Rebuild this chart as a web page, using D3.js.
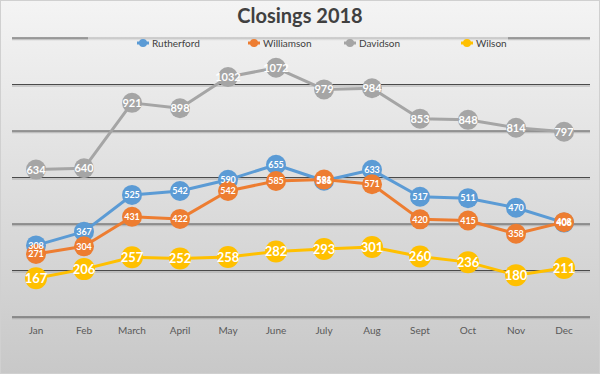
<html>
<head>
<meta charset="utf-8">
<title>Closings 2018</title>
<script src="https://d3js.org/d3.v7.min.js"></script>
<style>
body { margin: 0; }
text { font-family: Lato, "Open Sans", sans-serif; }
</style>
</head>
<body>
<svg width="600" height="374"></svg>
<script>
var months = ["Jan","Feb","March","April","May","June","July","Aug","Sept","Oct","Nov","Dec"];
var rutherford = [308,367,525,542,590,655,586,633,517,511,470,406];
var williamson = [271,304,431,422,542,585,591,571,420,415,358,408];
var davidson = [634,640,921,898,1032,1072,979,984,853,848,814,797];
var wilson = [167,206,257,252,258,282,293,301,260,236,180,211];
var yTicks = [0,200,400,600,800,1000,1200];

var series = [
  {name:"Rutherford", values:rutherford, color:"#5b9bd5", r:10, font:9},
  {name:"Williamson", values:williamson, color:"#ed7d31", r:10, font:9},
  {name:"Davidson", values:davidson, color:"#a5a5a5", r:10, font:11},
  {name:"Wilson", values:wilson, color:"#ffc000", r:11, font:13}
];

var svg = d3.select("svg");
var defs = svg.append("defs");
var grad = defs.append("linearGradient").attr("id","bg")
  .attr("x1","0").attr("y1","0").attr("x2","0").attr("y2","1");
grad.append("stop").attr("offset","0%").attr("stop-color","#f4f4f4");
grad.append("stop").attr("offset","100%").attr("stop-color","#c8c8c8");

svg.append("rect").attr("x",0.5).attr("y",0.5).attr("width",599).attr("height",373)
  .attr("fill","url(#bg)").attr("stroke","#d0d0d0");

var x = d3.scaleBand().domain(months).range([12,588]);
var y = d3.scaleLinear().domain([0,1200]).range([317,38]);

var grid = svg.append("g");
grid.selectAll("line.shadow").data(yTicks).enter().append("line")
  .attr("class","shadow")
  .attr("x1",12).attr("x2",590)
  .attr("y1",d=>y(d)+1.5).attr("y2",d=>y(d)+1.5)
  .attr("stroke","#9a9a9a").attr("stroke-opacity",0.5).attr("stroke-width",1.5);
grid.selectAll("line.g").data(yTicks).enter().append("line")
  .attr("class","g")
  .attr("x1",12).attr("x2",590)
  .attr("y1",d=>y(d)).attr("y2",d=>y(d))
  .attr("stroke","#4a4a4a").attr("stroke-width",1.2);

var xAxis = svg.append("g").attr("transform","translate(0,317)")
  .call(d3.axisBottom(x).tickSize(0).tickPadding(10));
xAxis.select(".domain").remove();
xAxis.selectAll("text").attr("fill","#595959").style("font-size","10px")
  .style("font-family","Lato, 'Open Sans', sans-serif");

svg.append("text").attr("x",300).attr("y",23).attr("text-anchor","middle")
  .attr("fill","#404040").style("font-size","20px").style("font-weight","bold")
  .text("Closings 2018");

// legend
var legendX = [137,248,344,461];
svg.append("rect").attr("x",88).attr("y",36).attr("width",420).attr("height",15)
  .attr("fill","#efefef").attr("fill-opacity",0.6);
var leg = svg.selectAll("g.leg").data(series).enter().append("g")
  .attr("class","leg").attr("transform",(d,i)=>`translate(${legendX[i]},43)`);
leg.append("line").attr("x1",0).attr("x2",12).attr("stroke",d=>d.color).attr("stroke-width",3);
leg.append("circle").attr("cx",6).attr("r",4).attr("fill",d=>d.color);
leg.append("text").attr("x",15).attr("dy","0.35em").attr("fill","#404040")
  .style("font-size","10px").text(d=>d.name);

var line = d3.line().x((d,i)=>x(months[i])+x.bandwidth()/2).y(d=>y(d));
var cx = (d,i)=>x(months[i])+x.bandwidth()/2;

// lines and markers first, then all labels on top (as Excel does)
series.forEach(function(s){
  var g = svg.append("g");
  g.append("path").datum(s.values).attr("d",line)
    .attr("fill","none").attr("stroke",s.color).attr("stroke-width",3)
    .attr("stroke-linejoin","round");
  g.selectAll("circle").data(s.values).enter().append("circle")
    .attr("cx",cx).attr("cy",d=>y(d)).attr("r",s.r).attr("fill",s.color);
});
series.forEach(function(s){
  svg.append("g").selectAll("text").data(s.values).enter().append("text")
    .attr("x",cx).attr("y",d=>y(d)).attr("text-anchor","middle").attr("dy","0.36em")
    .attr("fill","#ffffff").style("font-size",s.font+"px").style("font-weight","bold")
    .text(d=>d);
});
</script>
</body>
</html>
